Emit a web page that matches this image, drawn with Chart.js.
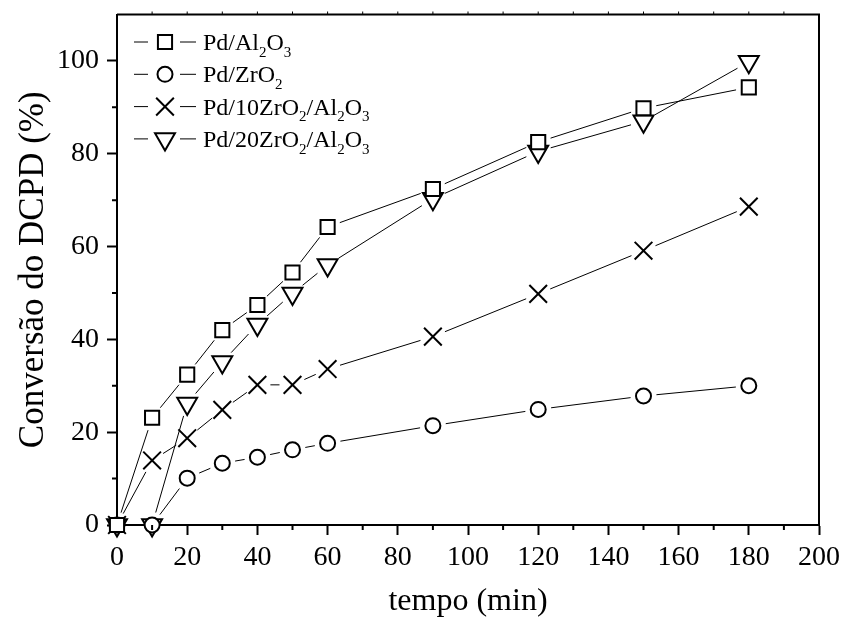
<!DOCTYPE html>
<html>
<head>
<meta charset="utf-8">
<script src="https://cdn.jsdelivr.net/npm/chart.js@4/dist/chart.umd.min.js"></script>
<style>
    html, body { margin: 0; padding: 0; background: #fff; }
    #wrap { width: 844px; height: 621px; }
</style>
</head>
<body>
<div id="wrap"><canvas id="chart" width="844" height="621"></canvas></div>
<script>
// tempo (min)
const times = [0, 10, 20, 30, 40, 50, 60, 90, 120, 150, 180]

// conversão do DCPD (%)
const pdAl2O3 = [0, 23.1, 32.4, 42.0, 47.4, 54.4, 64.2, 72.4, 82.5, 89.8, 94.3]
const pdZrO2 = [0, 0, 10.1, 13.3, 14.6, 16.2, 17.6, 21.4, 24.9, 27.8, 30.0]
const pd10ZrO2Al2O3 = [0, 13.9, 18.7, 24.8, 30.2, 30.2, 33.6, 40.6, 49.8, 59.1, 68.6]
const pd20ZrO2Al2O3 = [0, 0, 26.2, 35.1, 43.2, 49.9, 56.0, 70.3, 80.5, 87.0, 99.8]

// "_" marks the next character as subscript
const seriesLabels = ["Pd/Al_2O_3", "Pd/ZrO_2", "Pd/10ZrO_2/Al_2O_3", "Pd/20ZrO_2/Al_2O_3"]

const FONT = "'Liberation Serif', 'Times New Roman', serif"

const markerStyles = [
    { pointStyle: "rect", radius: 10, rotation: 0 },
    { pointStyle: "circle", radius: 7.5, rotation: 0 },
    { pointStyle: "crossRot", radius: 12.5, rotation: 0 },
    { pointStyle: "triangle", radius: 11.5, rotation: 180 },
]

const seriesValues = [pdAl2O3, pdZrO2, pd10ZrO2Al2O3, pd20ZrO2Al2O3]

const datasets = seriesValues.map((values, i) => ({
    label: seriesLabels[i].replace(/_/g, ""),
    data: values.map((v, j) => ({ x: times[j], y: v })),
    showLine: false,
    clip: false,
    pointStyle: markerStyles[i].pointStyle,
    pointRadius: markerStyles[i].radius,
    pointRotation: markerStyles[i].rotation,
    pointBorderWidth: 2,
    pointBorderColor: "#000",
    pointBackgroundColor: "#fff",
}))

function drawRichText(ctx, text, x, y, size) {
    let cx = x
    for (let i = 0; i < text.length; i++) {
        let ch = text[i]
        if (ch === "_" && i + 1 < text.length) {
            i++
            ch = text[i]
            ctx.font = `${Math.round(size * 0.62)}px ${FONT}`
            ctx.fillText(ch, cx, y + size * 0.28)
        } else {
            ctx.font = `${size}px ${FONT}`
            ctx.fillText(ch, cx, y)
        }
        cx += ctx.measureText(ch).width
    }
}

// Origin-like look: lines stop short of the markers, minor ticks, closed frame, legend
const originStyle = {
    id: "originStyle",
    beforeDatasetsDraw(chart) {
        const ctx = chart.ctx
        const gap = 13
        ctx.save()
        ctx.strokeStyle = "#000"
        ctx.lineWidth = 1
        chart.data.datasets.forEach((ds, i) => {
            const pts = chart.getDatasetMeta(i).data
            for (let k = 1; k < pts.length; k++) {
                const a = pts[k - 1]
                const b = pts[k]
                const dx = b.x - a.x
                const dy = b.y - a.y
                const len = Math.hypot(dx, dy)
                if (len <= gap * 2) continue
                const ux = dx / len
                const uy = dy / len
                ctx.beginPath()
                ctx.moveTo(a.x + ux * gap, a.y + uy * gap)
                ctx.lineTo(b.x - ux * gap, b.y - uy * gap)
                ctx.stroke()
            }
        })
        ctx.restore()
    },
    afterDraw(chart) {
        const ctx = chart.ctx
        const area = chart.chartArea
        const xs = chart.scales.x
        const ys = chart.scales.y
        ctx.save()
        ctx.strokeStyle = "#000"
        ctx.lineWidth = 2
        ctx.beginPath()
        ctx.moveTo(area.left, area.top)
        ctx.lineTo(area.right, area.top)
        ctx.lineTo(area.right, area.bottom)
        ctx.stroke()

        ctx.beginPath()
        for (let v = 10; v < 200; v += 20) {
            const px = xs.getPixelForValue(v)
            ctx.moveTo(px, area.bottom)
            ctx.lineTo(px, area.bottom + 5)
        }
        for (let v = 10; v < 110; v += 20) {
            const py = ys.getPixelForValue(v)
            ctx.moveTo(area.left, py)
            ctx.lineTo(area.left - 5, py)
        }
        ctx.stroke()

        ctx.lineWidth = 1
        ctx.beginPath()
        for (let v = 10; v < 200; v += 10) {
            const px = xs.getPixelForValue(v)
            ctx.moveTo(px, area.top)
            ctx.lineTo(px, area.top - 3)
        }
        ctx.stroke()

        // legend
        const markerX = 165
        const rowY = 42
        const rowStep = 32.3
        ctx.fillStyle = "#000"
        ctx.textBaseline = "alphabetic"
        ctx.textAlign = "left"
        seriesLabels.forEach((label, i) => {
            const y = rowY + i * rowStep
            ctx.lineWidth = 1
            ctx.beginPath()
            ctx.moveTo(134, y)
            ctx.lineTo(148, y)
            ctx.moveTo(180, y)
            ctx.lineTo(196, y)
            ctx.stroke()
            ctx.lineWidth = 2
            ctx.fillStyle = "#fff"
            Chart.helpers.drawPoint(ctx, {
                pointStyle: markerStyles[i].pointStyle,
                radius: markerStyles[i].radius,
                rotation: markerStyles[i].rotation,
                borderWidth: 2,
            }, markerX, y)
            ctx.fillStyle = "#000"
            drawRichText(ctx, label, 203, y + 8, 24)
        })
        ctx.restore()
    },
}

new Chart(document.getElementById("chart"), {
    type: "scatter",
    data: { datasets },
    options: {
        responsive: false,
        animation: false,
        events: [],
        layout: { padding: { top: 14, right: 25, left: 0, bottom: 0 } },
        plugins: {
            legend: { display: false },
            tooltip: { enabled: false },
        },
        scales: {
            x: {
                type: "linear",
                min: 0,
                max: 200,
                afterFit: (scale) => {
                    scale.height = 96
                    scale.paddingLeft = 0
                    scale.paddingRight = 0
                },
                ticks: {
                    stepSize: 20,
                    color: "#000",
                    padding: 6,
                    maxRotation: 0,
                    autoSkip: false,
                    font: { family: FONT, size: 28 },
                },
                grid: {
                    drawOnChartArea: false,
                    drawTicks: true,
                    tickLength: 10,
                    tickWidth: 2,
                    tickColor: "#000",
                },
                border: { display: true, color: "#000", width: 2 },
                title: {
                    display: true,
                    text: "tempo (min)",
                    color: "#000",
                    padding: { top: 0, bottom: 0 },
                    font: { family: FONT, size: 32 },
                },
            },
            y: {
                type: "linear",
                min: 0,
                max: 110,
                afterFit: (scale) => {
                    scale.width = 117
                    scale.paddingTop = 0
                    scale.paddingBottom = 0
                },
                ticks: {
                    stepSize: 20,
                    includeBounds: false,
                    color: "#000",
                    padding: 8,
                    font: { family: FONT, size: 28 },
                },
                grid: {
                    drawOnChartArea: false,
                    drawTicks: true,
                    tickLength: 10,
                    tickWidth: 2,
                    tickColor: "#000",
                },
                border: { display: true, color: "#000", width: 2 },
                title: {
                    display: true,
                    text: "Conversão do DCPD (%)",
                    color: "#000",
                    padding: { top: 13, bottom: 0 },
                    font: { family: FONT, size: 35 },
                },
            },
        },
    },
    plugins: [originStyle],
})
</script>
</body>
</html>
